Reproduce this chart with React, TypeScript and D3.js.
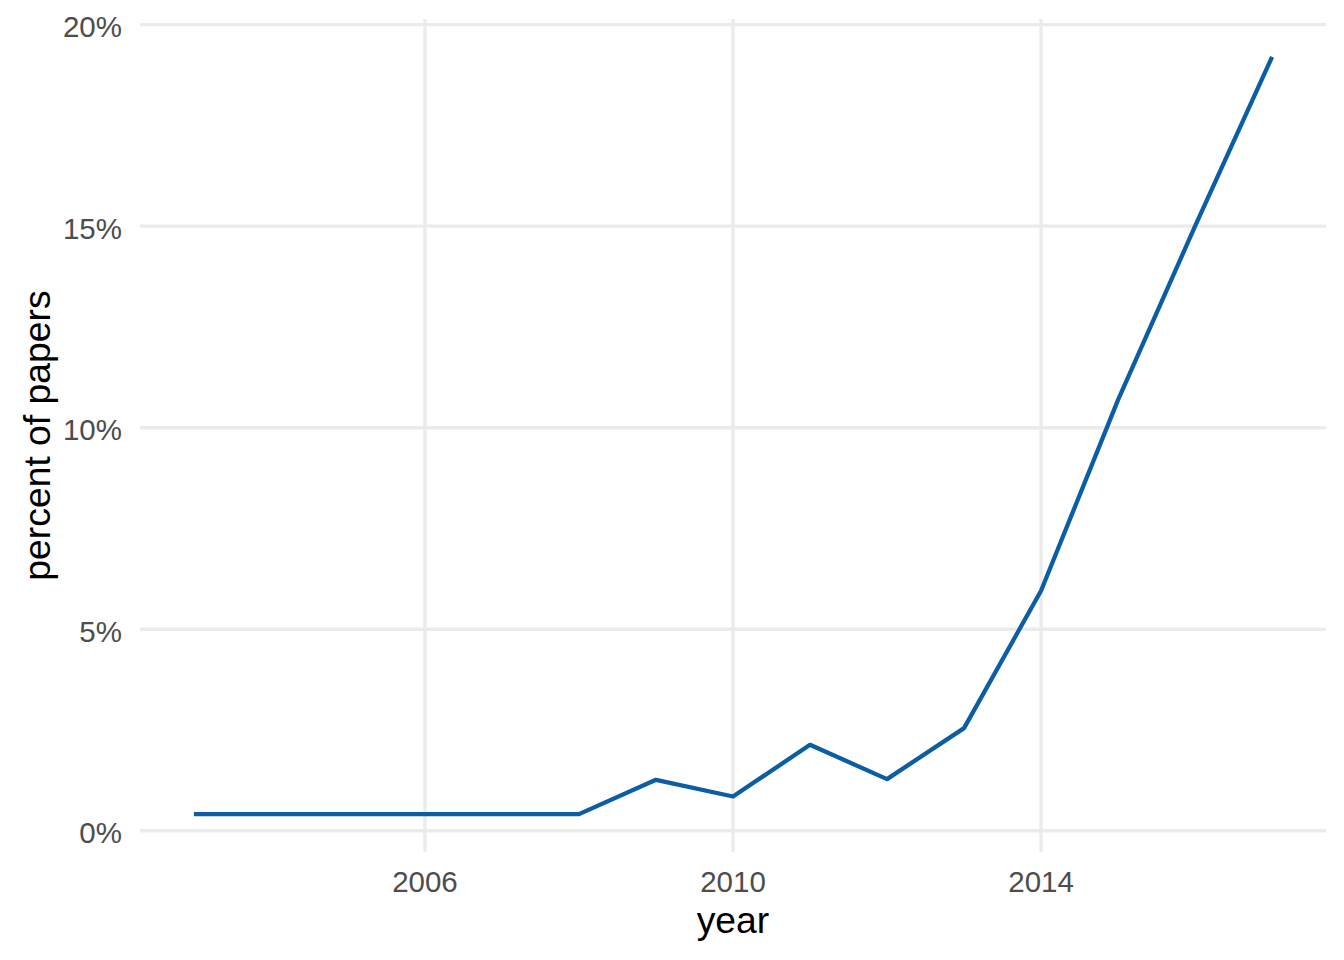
import React from "react";
import * as d3 from "d3";

const years = [2003, 2004, 2005, 2006, 2007, 2008, 2009, 2010, 2011, 2012, 2013, 2014, 2015, 2016, 2017];
const percentOfPapers = [0.414, 0.414, 0.414, 0.414, 0.414, 0.414, 1.266, 0.851, 2.134, 1.283, 2.548, 5.955, 10.69, 15.0, 19.2];
const xTicks = [2006, 2010, 2014];
const yTicks = [0, 5, 10, 15, 20];

const W = 1344;
const H = 960;
const panel = { left: 140, right: 1326, top: 19, bottom: 852 };

export default function App() {
  const xExt = d3.extent(years) as [number, number];
  const yExt = d3.extent(percentOfPapers) as [number, number];
  const xPad = (xExt[1] - xExt[0]) * 0.05;
  const yPad = (yExt[1] - yExt[0]) * 0.05;
  const x = d3.scaleLinear().domain([xExt[0] - xPad, xExt[1] + xPad]).range([panel.left, panel.right]);
  const y = d3.scaleLinear().domain([yExt[0] - yPad, yExt[1] + yPad]).range([panel.bottom, panel.top]);

  const data = years.map((yr, i) => ({ yr, v: percentOfPapers[i] }));
  const line = d3.line<{ yr: number; v: number }>().x((d) => x(d.yr)).y((d) => y(d.v));

  const font = "'Liberation Sans', Arial, Helvetica, sans-serif";

  return (
    <svg width={W} height={H} style={{ position: "absolute", left: 0, top: 0, background: "#fff" }} fontFamily={font}>
      <rect x={0} y={0} width={W} height={H} fill="#fff" />
      {yTicks.map((t) => (
        <line key={"gy" + t} x1={panel.left} x2={panel.right} y1={y(t)} y2={y(t)} stroke="#EBEBEB" strokeWidth={3.4} />
      ))}
      {xTicks.map((t) => (
        <line key={"gx" + t} x1={x(t)} x2={x(t)} y1={panel.top} y2={panel.bottom} stroke="#EBEBEB" strokeWidth={3.4} />
      ))}
      <path d={line(data) || ""} fill="none" stroke="#0B5EA3" strokeWidth={4.3} strokeLinejoin="round" strokeLinecap="butt" />
      {yTicks.map((t) => (
        <text key={"ly" + t} x={122} y={y(t) + 12.5} textAnchor="end" fontSize={29.5} fill="#4D4D4D">
          {t + "%"}
        </text>
      ))}
      {xTicks.map((t) => (
        <text key={"lx" + t} x={x(t)} y={891.5} textAnchor="middle" fontSize={29.5} fill="#4D4D4D">
          {t}
        </text>
      ))}
      <text x={(panel.left + panel.right) / 2} y={933} textAnchor="middle" fontSize={37.3} fill="#000">
        year
      </text>
      <text
        transform={`translate(50, ${(panel.top + panel.bottom) / 2}) rotate(-90)`}
        textAnchor="middle"
        fontSize={37.3}
        fill="#000"
      >
        percent of papers
      </text>
    </svg>
  );
}
